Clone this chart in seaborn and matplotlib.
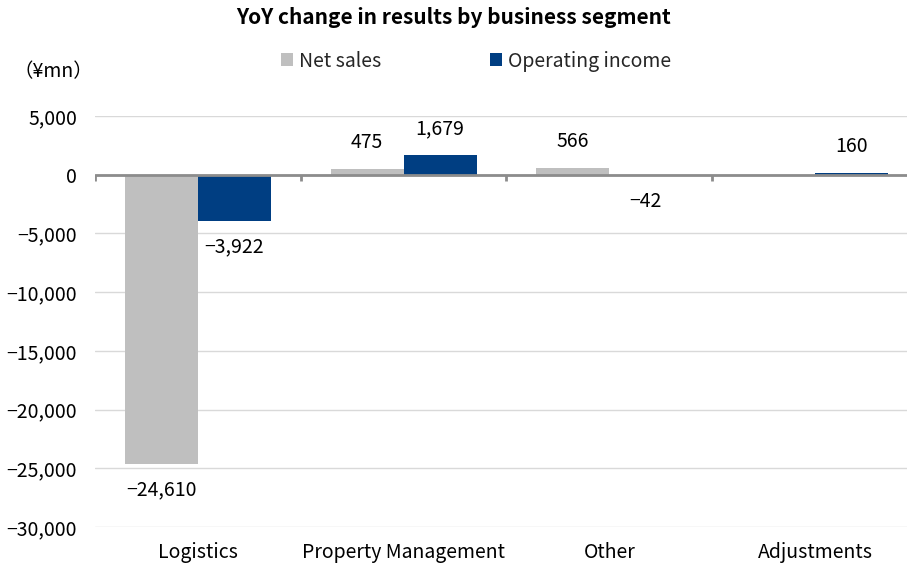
import numpy as np
import pandas as pd
import matplotlib
matplotlib.use("Agg")
import matplotlib.pyplot as plt
import seaborn as sns
from matplotlib.ticker import FuncFormatter, MultipleLocator

categories = ["Logistics", "Property Management", "Other", "Adjustments"]
net_sales = [-24610, 475, 566, np.nan]
operating_income = [-3922, 1679, -42, 160]
series_names = ["Net sales", "Operating income"]
colors = ["#BFBFBF", "#003E82"]

sns.set_theme(style="white")
plt.rcParams['font.family'] = ['Noto Sans CJK JP', 'DejaVu Sans']
plt.rcParams['axes.unicode_minus'] = True

FS = 14

df = pd.DataFrame({
    "Segment": categories * 2,
    "Series": [series_names[0]] * 4 + [series_names[1]] * 4,
    "Value": net_sales + operating_income,
})

fig = plt.figure(figsize=(9.07, 5.64), dpi=100)
ax = fig.add_axes([95 / 907, 1 - 527 / 564, (907 - 95) / 907, (527 - 116) / 564])

sns.barplot(data=df, x="Segment", y="Value", hue="Series", palette=colors,
            width=0.71, gap=0, saturation=1, ax=ax, legend=True, linewidth=0)

ax.set_ylim(-30000, 5000)
ax.set_xlim(-0.5, 3.5 - 11 / 206)
ax.yaxis.set_major_locator(MultipleLocator(5000))
ax.yaxis.set_major_formatter(FuncFormatter(lambda v, p: f"{int(v):,}".replace("-", "\u2212")))
ax.grid(axis="y", color="#D9D9D9", linewidth=1)
ax.set_axisbelow(True)
for s in ax.spines.values():
    s.set_visible(False)
ax.tick_params(axis="both", length=0, labelsize=FS, colors="black")
ax.tick_params(axis="y", pad=13)
ax.tick_params(axis="x", pad=11)
ax.set_xlabel("")
ax.set_ylabel("")

# zero axis line with boundary ticks
ax.axhline(0, color="#8C8C8C", linewidth=2, zorder=3)
ax.vlines(np.arange(-0.5, 4.0, 1.0), -550, 0, color="#8C8C8C", linewidth=2, zorder=3)

# value labels
for cont in ax.containers:
    for bar in cont:
        h = bar.get_height()
        if np.isnan(h):
            continue
        x = bar.get_x() + bar.get_width() / 2
        off = 19 if h >= 0 else -19
        ax.annotate(f"{int(h):,}".replace("-", "\u2212"), (x, h),
                    xytext=(0, off), textcoords="offset points",
                    ha="center", va="center", fontsize=FS, color="black")

handles, labels = ax.get_legend_handles_labels()
ax.legend(handles, labels, loc="center", bbox_to_anchor=(476 / 907, 1 - 61 / 564),
          bbox_transform=fig.transFigure, ncol=2, frameon=False, fontsize=FS,
          handlelength=0.6, handleheight=0.6, handletextpad=0.3, columnspacing=5.6)

fig.text(0.5, 1 - 18 / 564, "YoY change in results by business segment",
         ha="center", va="center", fontsize=15, fontweight="bold", color="black")
fig.text(53 / 907, 1 - 72 / 564, "\uff08\u00a5mn\uff09", ha="center", va="center",
         fontsize=FS, color="black")

fig.savefig("out.png", dpi=100)
